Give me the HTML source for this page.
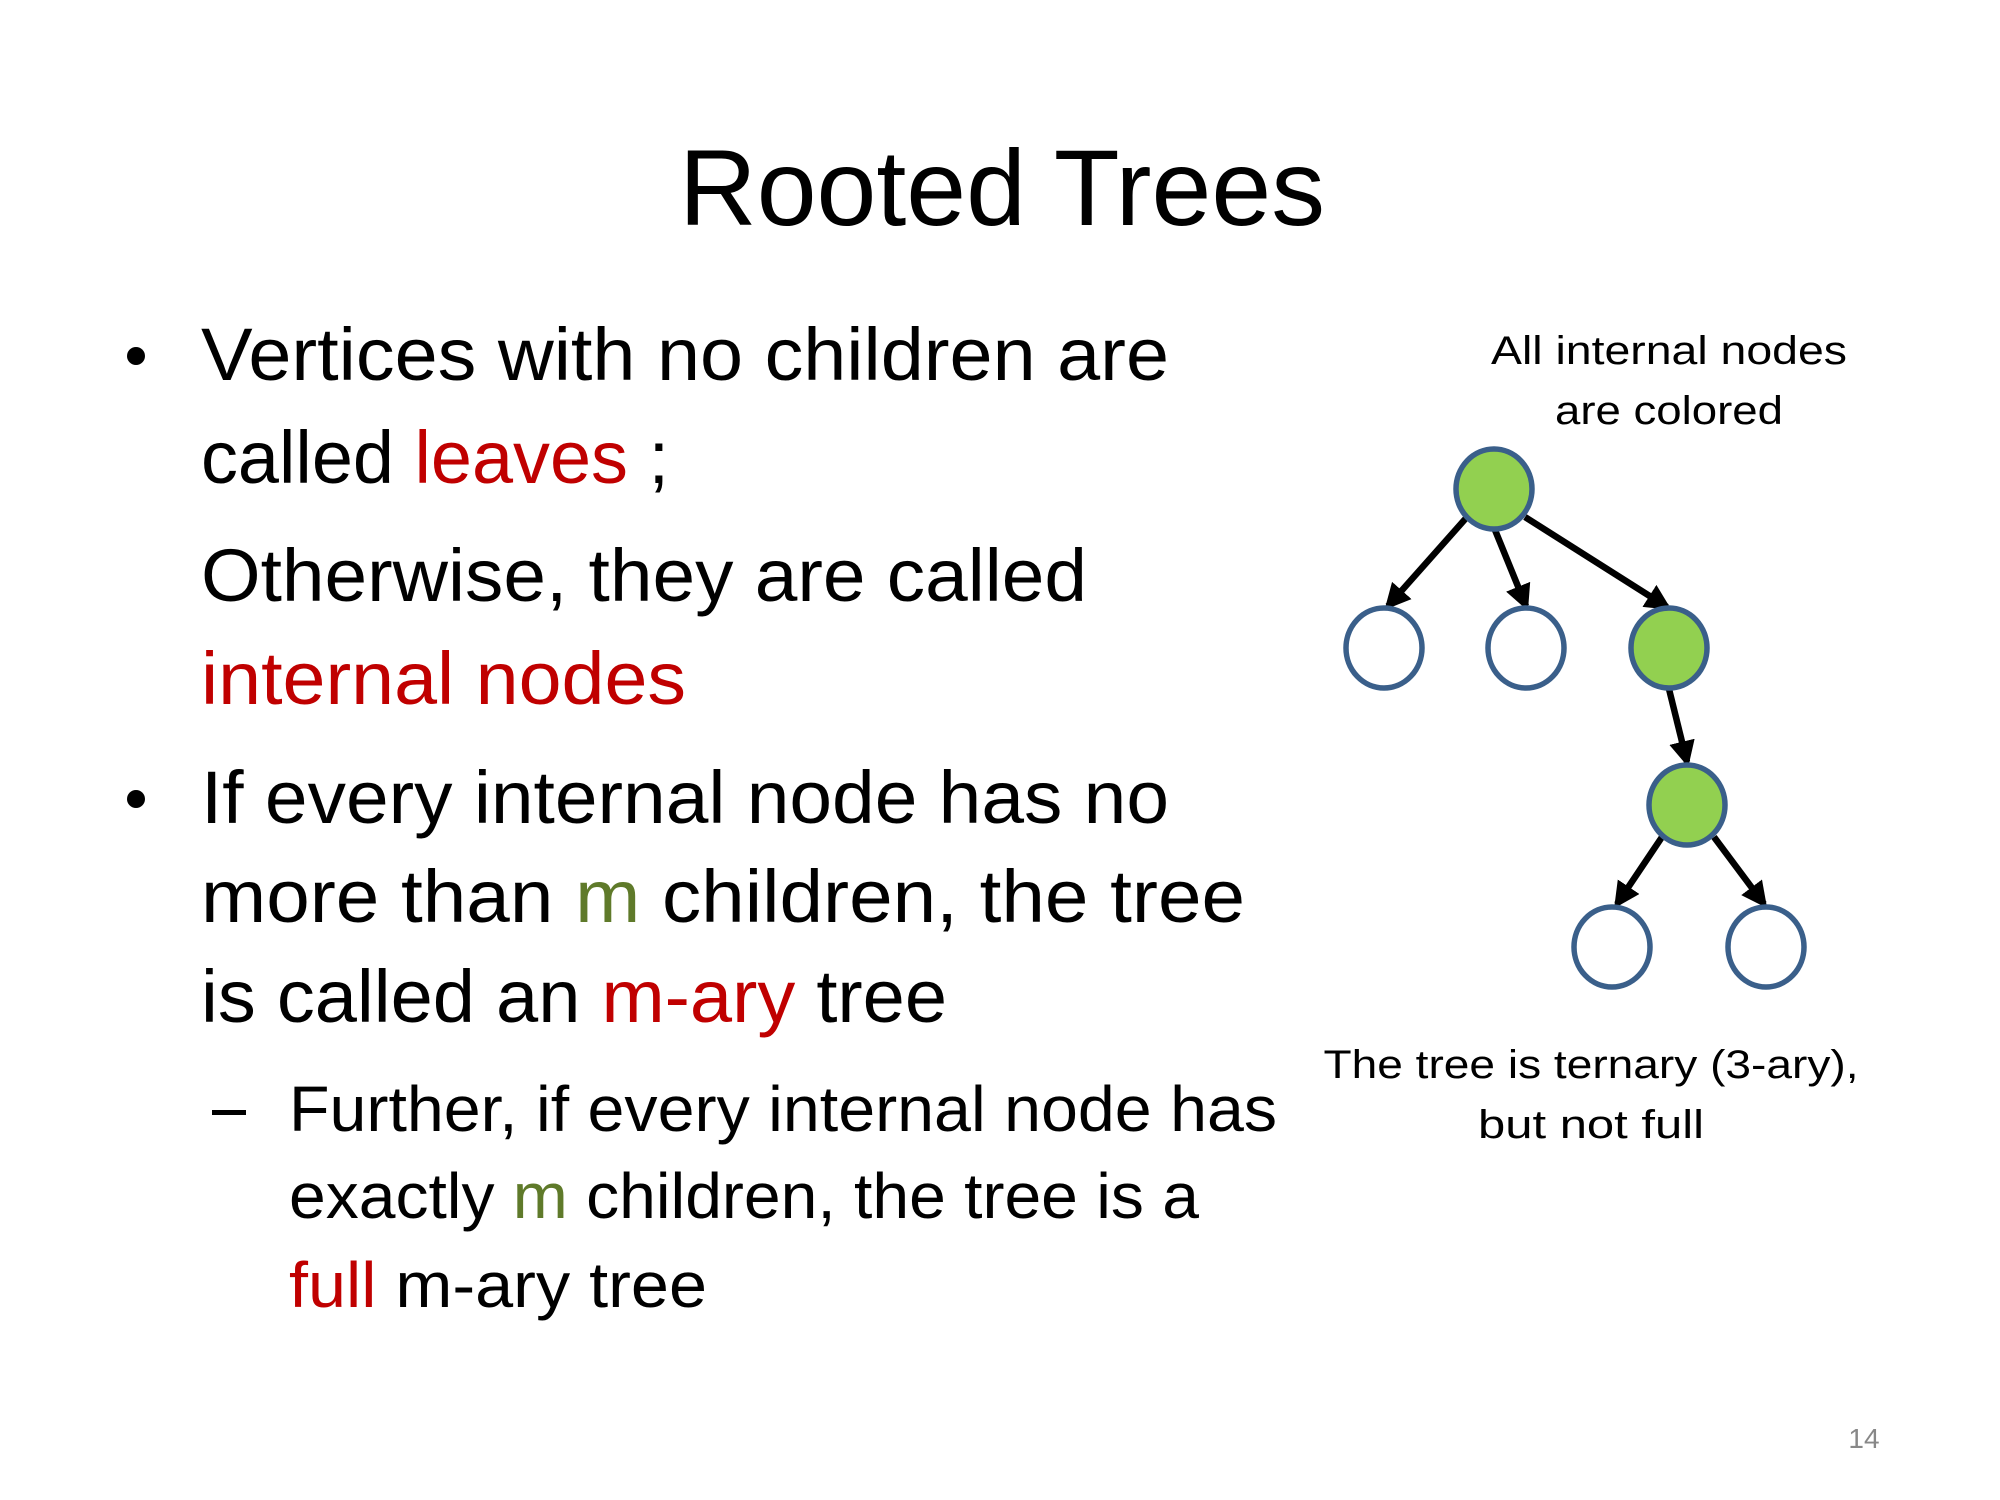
<!DOCTYPE html>
<html><head><meta charset="utf-8"><style>
html,body{margin:0;padding:0;background:#fff;}
svg{display:block;}
text{font-family:"Liberation Sans",sans-serif;}
</style></head><body>
<svg width="2000" height="1500" viewBox="0 0 2000 1500" xmlns="http://www.w3.org/2000/svg">
<defs>
<marker id="ah" markerWidth="4" markerHeight="4" refX="3.2" refY="2" orient="auto" markerUnits="strokeWidth">
<path d="M0,0 L4,2 L0,4 Z" fill="#000"/>
</marker>
</defs>
<text x="1002" y="225" font-size="108" text-anchor="middle" textLength="646" lengthAdjust="spacingAndGlyphs">Rooted Trees</text>

<g font-size="74">
<circle cx="136" cy="356" r="9" fill="#000"/>
<text x="201" y="380" textLength="968" lengthAdjust="spacingAndGlyphs">Vertices with no children are</text>
<text x="201" y="483" textLength="468" lengthAdjust="spacingAndGlyphs">called <tspan fill="#C00000">leaves</tspan> ;</text>
<text x="201" y="601" textLength="886" lengthAdjust="spacingAndGlyphs">Otherwise, they are called</text>
<text x="201" y="704" fill="#C00000" textLength="485" lengthAdjust="spacingAndGlyphs">internal nodes</text>
<circle cx="136" cy="799" r="9" fill="#000"/>
<text x="201" y="823" textLength="968" lengthAdjust="spacingAndGlyphs">If every internal node has no</text>
<text x="201" y="922" textLength="1044" lengthAdjust="spacingAndGlyphs">more than <tspan fill="#5F7A2A">m</tspan> children, the tree</text>
<text x="201" y="1022" textLength="746" lengthAdjust="spacingAndGlyphs">is called an <tspan fill="#C00000">m-ary</tspan> tree</text>
</g>
<g font-size="64">
<rect x="212" y="1110" width="34" height="5" fill="#000"/>
<text x="289" y="1131" textLength="988" lengthAdjust="spacingAndGlyphs">Further, if every internal node has</text>
<text x="289" y="1218" textLength="910" lengthAdjust="spacingAndGlyphs">exactly <tspan fill="#5F7A2A">m</tspan> children, the tree is a</text>
<text x="289" y="1307" textLength="418" lengthAdjust="spacingAndGlyphs"><tspan fill="#C00000">full</tspan> m-ary tree</text>
</g>

<g font-size="40" text-anchor="middle">
<text x="1669" y="364" textLength="356" lengthAdjust="spacingAndGlyphs">All internal nodes</text>
<text x="1669" y="424" textLength="228" lengthAdjust="spacingAndGlyphs">are colored</text>
<text x="1591" y="1078" textLength="535" lengthAdjust="spacingAndGlyphs">The tree is ternary (3-ary),</text>
<text x="1591" y="1138" textLength="226" lengthAdjust="spacingAndGlyphs">but not full</text>
</g>
<text x="1864" y="1448" font-size="28" fill="#888" text-anchor="middle">14</text>

<g transform="translate(-9,-4)">
<g stroke="#000" stroke-width="6.5" marker-end="url(#ah)">
<line x1="1476" y1="521" x2="1397" y2="610"/>
<line x1="1504" y1="534" x2="1535" y2="610"/>
<line x1="1534" y1="521" x2="1676" y2="611"/>
<line x1="1678" y1="693" x2="1696" y2="766"/>
<line x1="1671" y1="841" x2="1626" y2="908"/>
<line x1="1723" y1="841" x2="1773" y2="908"/>
</g>
<g stroke="#3A5F8A" stroke-width="5.5">
<ellipse cx="1503" cy="493" rx="38" ry="40" fill="#92D050"/>
<ellipse cx="1393" cy="652" rx="38" ry="40" fill="#fff"/>
<ellipse cx="1535" cy="652" rx="38" ry="40" fill="#fff"/>
<ellipse cx="1678" cy="652" rx="38" ry="40" fill="#92D050"/>
<ellipse cx="1696" cy="809" rx="38" ry="40" fill="#92D050"/>
<ellipse cx="1621" cy="951" rx="38" ry="40" fill="#fff"/>
<ellipse cx="1775" cy="951" rx="38" ry="40" fill="#fff"/>
</g>
</g>
</svg>
</body></html>
